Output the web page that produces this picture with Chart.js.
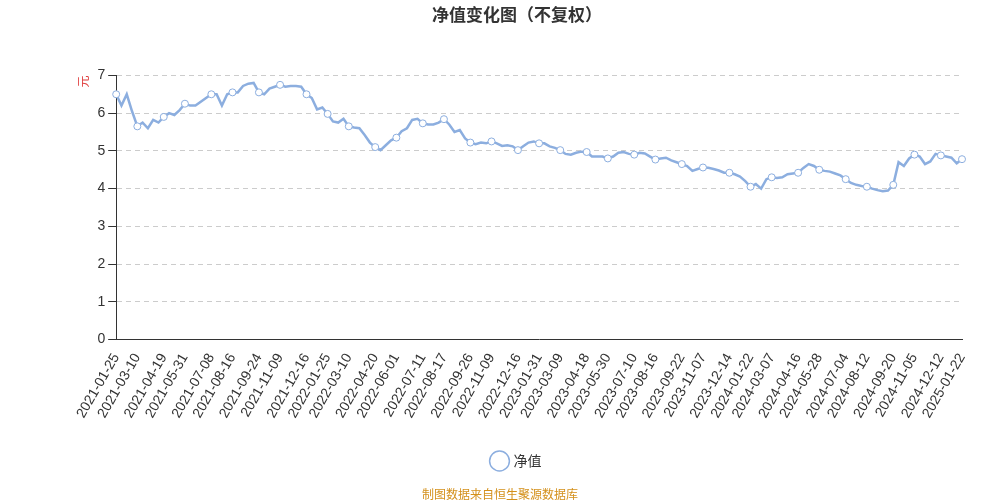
<!DOCTYPE html>
<html><head><meta charset="utf-8">
<script src="https://cdn.jsdelivr.net/npm/chart.js@4/dist/chart.umd.min.js"></script>
<style>
body{margin:0;background:#fff;font-family:"Noto Sans CJK SC","Noto Sans",sans-serif}
#wrap{position:relative;width:1000px;height:500px}
#foot{position:absolute;left:0;width:1000px;top:485px;text-align:center;font-size:12px;color:#d4901b}
</style></head><body>
<div id="wrap"><canvas id="chart" width="1000" height="500"></canvas>
<div id="foot">制图数据来自恒生聚源数据库</div></div>
<script>
const tickDates = ["2021-01-25","2021-03-10","2021-04-19","2021-05-31","2021-07-08","2021-08-16","2021-09-24","2021-11-09","2021-12-16","2022-01-25","2022-03-10","2022-04-20","2022-06-01","2022-07-11","2022-08-17","2022-09-26","2022-11-09","2022-12-16","2023-01-31","2023-03-09","2023-04-18","2023-05-30","2023-07-10","2023-08-16","2023-09-22","2023-11-07","2023-12-14","2024-01-22","2024-03-07","2024-04-16","2024-05-28","2024-07-04","2024-08-12","2024-09-20","2024-11-05","2024-12-12","2025-01-22"];
const navValues = [6.5,6.2,6.5,6.05,5.65,5.75,5.6,5.82,5.75,5.9,6.0,5.95,6.08,6.25,6.2,6.2,6.3,6.4,6.5,6.5,6.2,6.5,6.55,6.55,6.72,6.78,6.8,6.55,6.5,6.65,6.7,6.75,6.7,6.72,6.72,6.7,6.5,6.4,6.1,6.15,5.98,5.78,5.75,5.85,5.65,5.62,5.6,5.42,5.22,5.1,5.02,5.15,5.28,5.35,5.52,5.6,5.82,5.85,5.73,5.7,5.7,5.75,5.84,5.7,5.5,5.55,5.33,5.22,5.18,5.22,5.2,5.25,5.2,5.13,5.15,5.12,5.02,5.12,5.22,5.25,5.2,5.2,5.12,5.08,5.02,4.92,4.9,4.95,4.98,4.97,4.85,4.85,4.85,4.8,4.85,4.95,4.97,4.92,4.9,4.95,4.93,4.85,4.77,4.8,4.82,4.75,4.7,4.65,4.6,4.47,4.52,4.56,4.55,4.52,4.48,4.42,4.42,4.38,4.32,4.2,4.05,4.12,4.0,4.25,4.3,4.28,4.3,4.38,4.4,4.42,4.55,4.65,4.6,4.5,4.47,4.45,4.4,4.35,4.25,4.15,4.1,4.07,4.05,4.0,3.96,3.93,3.95,4.1,4.7,4.6,4.8,4.9,4.85,4.65,4.72,4.92,4.88,4.85,4.82,4.67,4.78];
const yTicks = [0,1,2,3,4,5,6,7];

// tick dates placed evenly along the data points; markers sit on the ticks
const last = navValues.length - 1;
const tickIdx = tickDates.map((d, k) => Math.round(k * last / (tickDates.length - 1)));
const labels = navValues.map((v, i) => {
  const k = tickIdx.indexOf(i);
  return k >= 0 ? tickDates[k] : "";
});

new Chart(document.getElementById("chart"), {
  type: "line",
  data: {
    labels: labels,
    datasets: [{
      label: "净值",
      data: navValues,
      borderColor: "#8caedf",
      backgroundColor: "#fff",
      borderWidth: 2.5,
      tension: 0,
      pointRadius: c => tickIdx.includes(c.dataIndex) ? 3.5 : 0,
      pointBorderWidth: 1,
      pointBorderColor: "#8caedf",
      pointBackgroundColor: "#fff"
    }]
  },
  options: {
    responsive: false,
    animation: false,
    layout: {padding: {left: 72, right: 38, top: 0, bottom: 22}},
    plugins: {
      title: {display: true, text: "净值变化图（不复权）", color: "#333",
        font: {size: 17, weight: "bold", family: "Noto Sans CJK SC"}, padding: {top: 4, bottom: 51}},
      legend: {position: "bottom", labels: {usePointStyle: true, color: "#333",
        font: {size: 14, family: "Noto Sans CJK SC"}, padding: 30,
        generateLabels: () => [{text: "净值", strokeStyle: "#8caedf", fillStyle: "#fff", fontColor: "#333", lineWidth: 1.5, pointStyle: "circle"}]}}
    },
    scales: {
      x: {
        grid: {display: false},
        border: {color: "#333"},
        ticks: {autoSkip: false, maxRotation: 60, minRotation: 60, color: "#333", font: {size: 14},
          callback: function(v) { const l = this.getLabelForValue(v); return l ? l : null; }}
      },
      y: {
        min: 0, max: 7,
        afterBuildTicks: a => { a.ticks = yTicks.map(v => ({value: v})); },
        grid: {color: "#ccc", drawTicks: true, tickColor: "#333"},
        border: {color: "#333", dash: [5, 4]},
        ticks: {color: "#333", font: {size: 14}},
        title: {display: true, text: "元", color: "#e04040", align: "end", font: {size: 12, family: "Noto Sans CJK SC"}}
      }
    }
  }
});
</script></body></html>
